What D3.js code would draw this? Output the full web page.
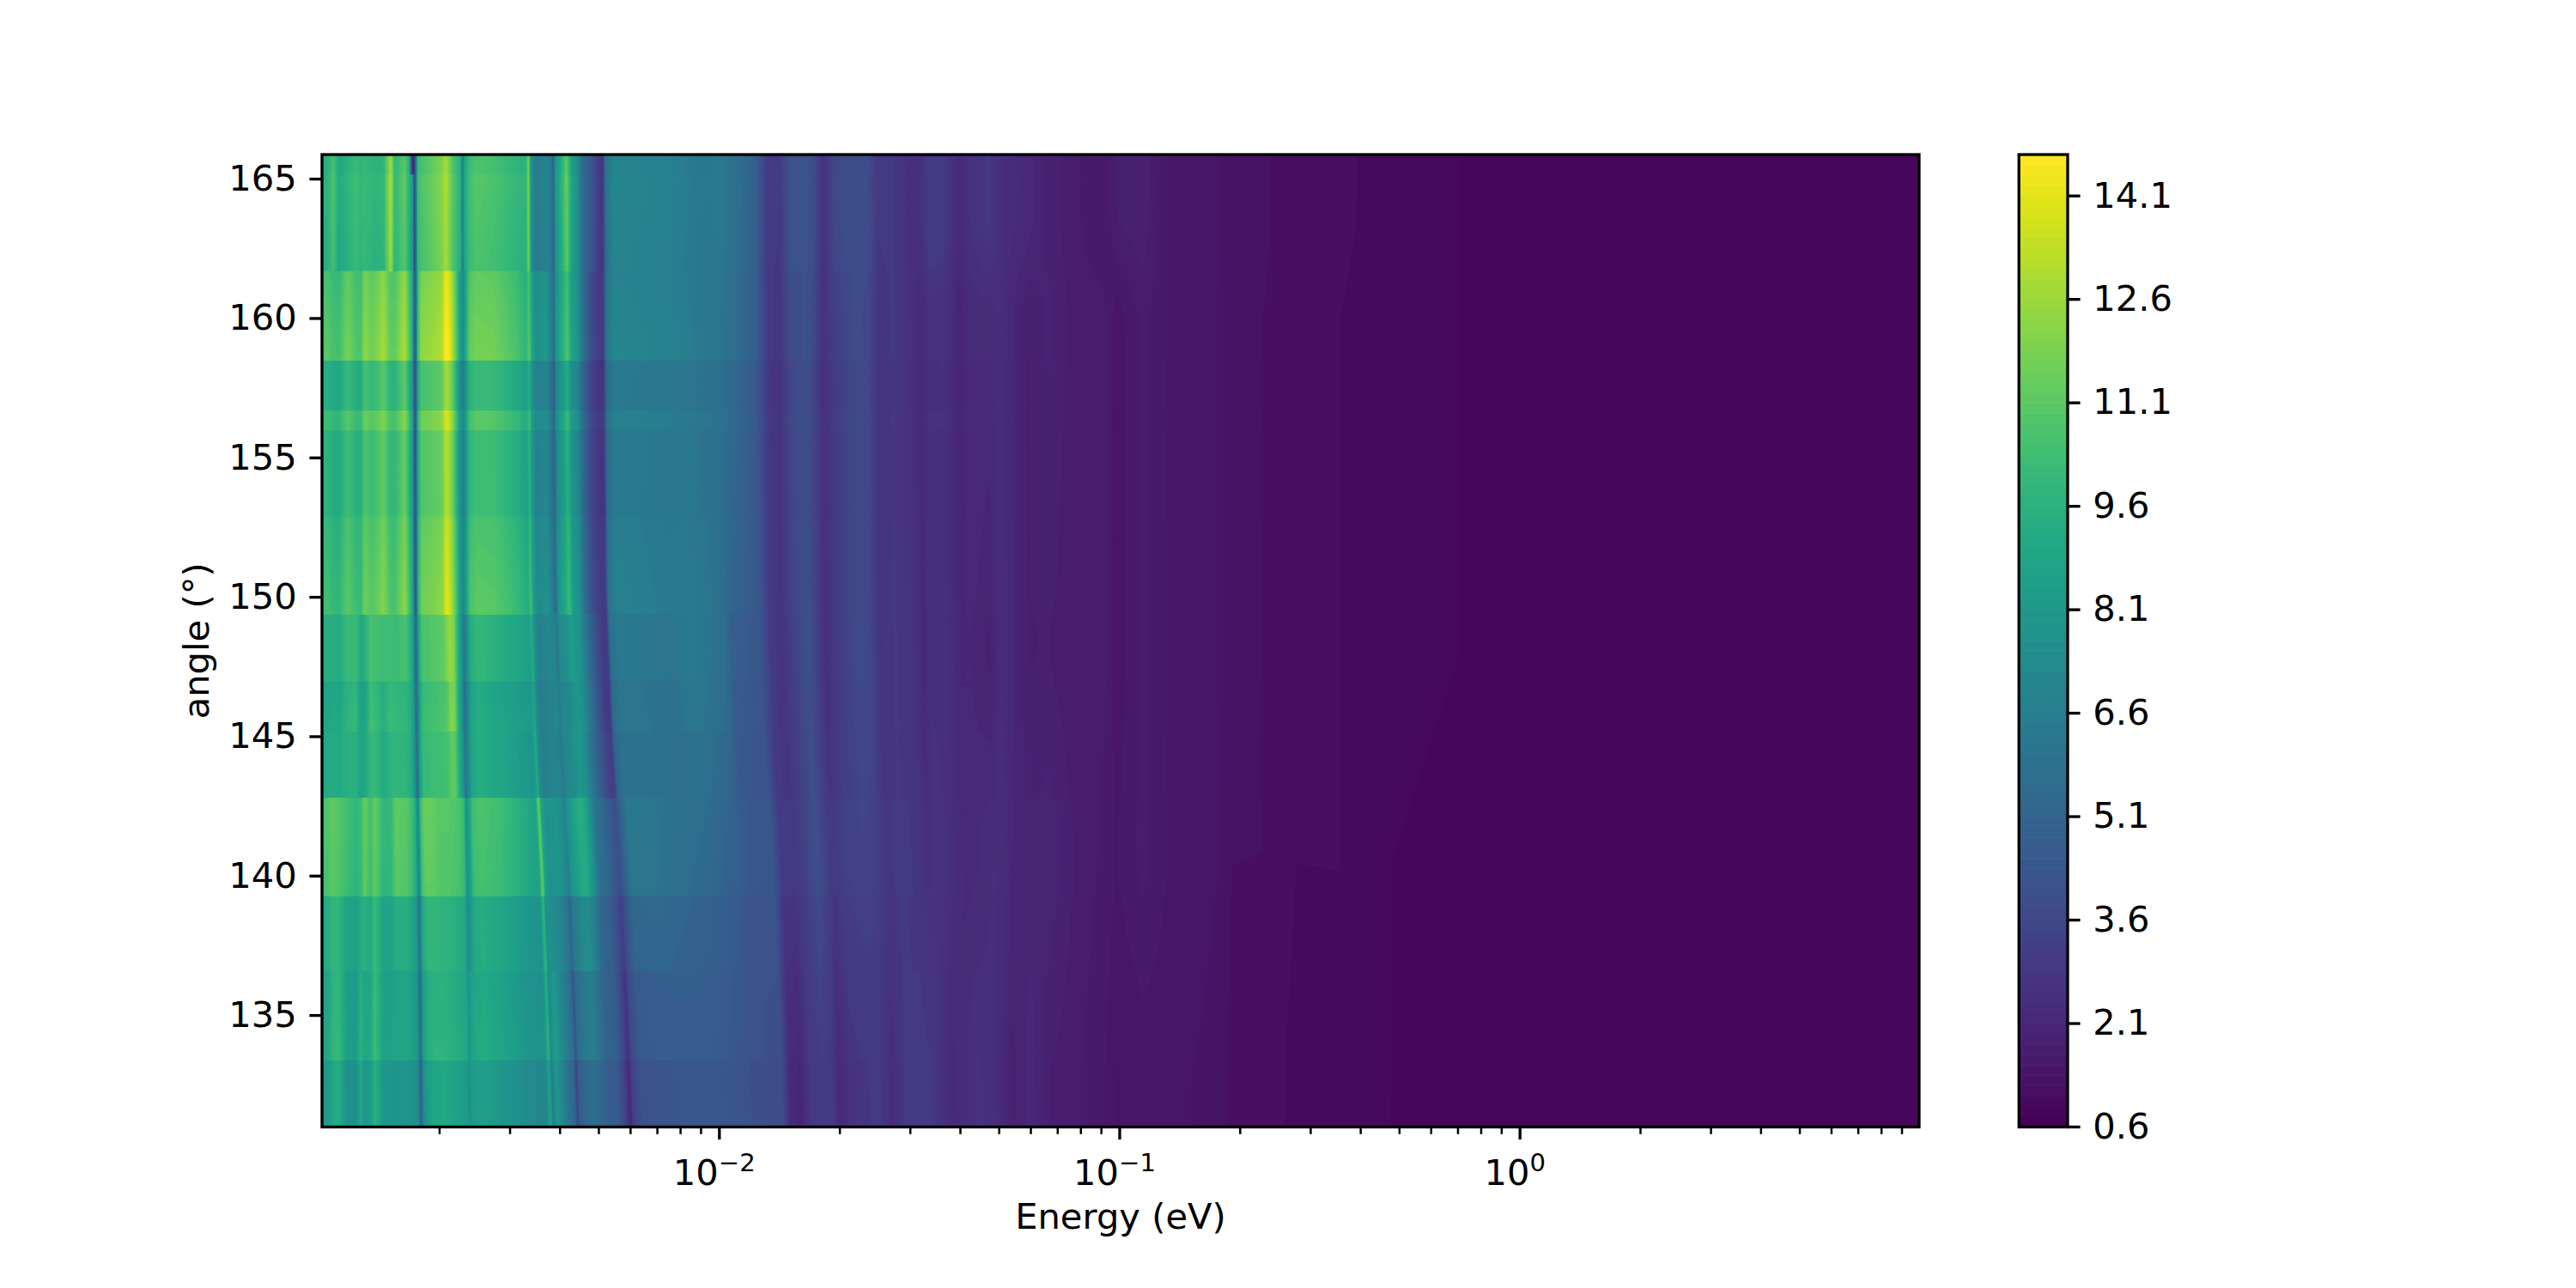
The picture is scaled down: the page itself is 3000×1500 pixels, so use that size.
<!DOCTYPE html>
<html><head><meta charset="utf-8">
<script src="https://d3js.org/d3.v7.min.js"></script>
<style>html,body{margin:0;background:#fff}svg{display:block}text{font-family:"DejaVu Sans";fill:#000}</style>
</head><body><svg id="c" width="3000" height="1500"></svg>
<script>
// ---- data ----
const logEnergy=[-2.995,-2.979,-2.964,-2.950,-2.929,-2.907,-2.896,-2.886,-2.871,-2.861,
-2.839,-2.821,-2.811,-2.786,-2.775,-2.767,-2.763,-2.758,-2.754,-2.746,
-2.728,-2.707,-2.693,-2.684,-2.675,-2.666,-2.657,-2.648,-2.641,-2.636,
-2.625,-2.607,-2.564,-2.507,-2.484,-2.477,-2.471,-2.460,-2.435,-2.421,
-2.415,-2.410,-2.392,-2.382,-2.371,-2.357,-2.342,-2.321,-2.303,-2.292,
-2.285,-2.264,-2.206,-2.135,-2.081,-2.038,-1.999,-1.978,-1.948,-1.909,
-1.879,-1.852,-1.824,-1.787,-1.766,-1.742,-1.712,-1.663,-1.631,-1.603,
-1.566,-1.517,-1.495,-1.478,-1.438,-1.401,-1.373,-1.326,-1.298,-1.277,
-1.229,-1.180,-1.116,-1.038,-1.009,-0.942,-0.880,-0.751,-0.719,-0.644,
-0.558,-0.451,-0.322,-0.150,0,0.171,0.386,0.600,0.815,0.999];
const driftAt131=[0,0,0,0,0,0,0,0,0,0,
0,0,.004,.010,.013,.016,.016,.016,.016,.018,
.018,.018,.018,.018,.018,.018,.018,.018,.018,.018,
.018,.020,.025,.040,.053,.056,.056,.056,.058,.062,
.062,.062,.065,.065,.065,.065,.068,.071,.071,.071,
.071,.071,.071,.071,.07,.07,.07,.07,.07,.07,
.06,.058,.056,.052,.05,.045,.042,.04,.038,.036,
.03,.027,.026,.025,.022,.02,.018,.014,.012,.011,
.008,.006,.004,.003,.002,0,0,0,0,0,
0,0,0,0,0,0,0,0,0,0];
const profile163=[9.5,9.8,10.8,9.2,9.8,10.4,10,10.2,10,9.8,
10,13,10,11.3,9.6,8.5,3.8,5.5,10.3,10.8,
11.2,11.8,12.2,13.2,12.2,11,10.4,9.8,6.8,9.2,
10.4,11,10.7,10,9.8,12,8,6.5,7,6.5,
5,8,10,11.5,9,8,5.6,4.5,3.2,2.8,
5.8,7.2,7,6.8,6.5,6.3,6.4,6,5.6,4.8,
2.9,2.9,4.2,4.2,4,2.6,3.7,4,3.9,2.9,
2.9,2.4,2.6,3.1,3,2.2,2.6,2.9,2.5,2.3,
2.2,1.9,1.7,1.5,1.8,1.9,1.5,1.35,1.2,1.25,
1.05,1.1,.95,.9,.85,.8,.78,.8,.78,.85];
const profile160=[10.5,10.8,10.3,10.2,11.5,10.6,10.5,12,11.4,11.5,
12.5,11,11,12.7,10.6,9,4.5,5.5,10,12,
12.2,12.5,12.8,14.6,14,12.5,10.6,8.5,7.4,8.5,
11,11.5,11.4,10.4,9.6,10.8,9,7.5,8,6.5,
5.5,8,9.5,10.6,8.5,8,5.6,3.7,3.1,3,
6,7,6.9,6.7,6.5,6.2,6,5.8,5.4,4.6,
3,2.7,3.8,4.1,3.6,2.6,3.2,3.8,3.7,2.7,
2.9,2.5,2.2,2.6,2.6,2,2.3,2.3,2.4,2.2,
1.8,2,1.75,1.7,1.4,1.7,1.5,1.4,1.25,1.2,
1.1,1.05,.95,.9,.85,.78,.75,.78,.8,.85];
const profile148=[9.3,9.5,9.6,9.5,10.3,10.6,9.2,9.2,11,10.8,
10,10.8,10.6,10.4,10,8.5,6,6.5,9,10.8,
11,11.2,11.4,11.7,12.8,12.6,10,8.5,6,7,
9.3,10,9.4,8.9,8.6,9.5,7.8,6.8,7.4,7.5,
7,7.5,7.6,8.2,8.6,8,6.6,4.6,3.2,3,
5.8,6.5,6.3,6.1,6.6,6.2,5.8,4.7,4.6,4.3,
3,2.7,3.3,4.1,3.4,2.5,3.1,3.7,3.7,2.7,
2.9,2.7,2.2,2.5,2.5,2.1,2.1,1.9,2.4,2.2,
1.8,1.8,1.7,1.7,1.4,1.7,1.5,1.4,1.25,1.2,
1.1,1.05,.95,.9,.85,.8,.75,.78,.8,.82];
const profile140=[10,10.5,10.8,10.5,10,9.5,9.8,11,10,11,
9.5,9.6,10.8,10.6,10,9,7,7.5,10,11,
11,10.6,10.6,10.6,10.5,10.4,10.2,9.8,7.5,8,
10,10.3,10,9,8.4,11,8.5,7.5,7.8,7,
6.5,7.5,8.5,9,9,7.8,5.8,5,4.2,3.9,
4.5,6,6,5.6,5.4,5.1,4.8,4.5,4.3,4.4,
3,2.9,3.2,4,3.4,2.9,3.3,3.4,3.3,2.8,
2.9,2.8,2.5,2.8,2.5,2.2,2.2,2.4,2.4,2.1,
2,2.1,1.8,1.6,1.5,1.7,1.5,1.35,1.2,1.2,
1.05,1.05,.9,.85,.8,.75,.78,.8,.78,.82];
const profile133=[8.5,8.8,9.8,10,8.2,8.2,9.8,8.6,9,10.3,
8.6,8.6,8.5,8.6,8.2,7.8,5.5,6,8.2,9,
9.6,9.7,9.6,9.4,9.2,9.2,9,9,8.2,8.8,
9,9.2,8.6,7.8,7.6,9.5,7,8.8,6.5,5.5,
3.6,5,5.8,6,6,5.6,5,4.8,3.5,2.3,
3.5,4.3,4.5,4.6,4.6,4.4,4.2,4.1,4,3.9,
2.2,2.1,3,3.1,3,2.2,2.7,2.9,2.9,2.4,
2.9,2.9,2.9,2.8,2.2,2.4,2.6,2.5,2.1,1.9,
2.2,1.8,1.7,1.5,1.35,1.4,1.4,1.3,1.15,1.15,
1,1.05,.9,.85,.8,.75,.78,.75,.82,.85];
const profiles=[profile163,profile160,profile148,profile140,profile133];
const profileAngles=[163.5,160,148,140.5,133];

// horizontal steps in the low-energy part of the map
const bandTop=[165.88,165.16,161.7,158.5,156.7,156,152.9,149.4,147,145.2,142.8,139.3,136.6,133.4];
const bandProfile=[0,0,1,1,1,1,1,1.7,2,2.3,3,3.4,3.8,4];
const bandGainTop=[.98,1,.98,.88,.96,.9,.93,.95,.93,.93,1.04,.95,.97,.93];
const bandGainBottom=[.98,.97,1.03,.88,.96,.9,.97,.95,.95,.93,1.02,.95,.99,.93];
const angleBottom=131;
// dark line at the top edge
const topStripColumns=[-2.767,-2.763];
const topStripValues=[2.2,2.2];

// how far the slanted lines have drifted at each angle (0 at top, 1 at 131 deg)
const driftAngles=[165.88,155,150,145,140,135,131];
const driftFraction=[0,.05,.1,.3,.62,.85,1];
const lowWeightLog=[-2.4,-2,-1.4,-.5];
const lowWeightValue=[1,.35,.1,0];

const levelStep=.15, levelMin=.6, levelCount=94;
const xLimits=[-2.9927,0.997];
const yLimits=[131,165.88];
const xMajor=[.01,.1,1];
const xMajorExp=["\u22122","\u22121","0"];
const yTicks=[135,140,145,150,155,160,165];
const cbarTicks=[.6,2.1,3.6,5.1,6.6,8.1,9.6,11.1,12.6,14.1];

// ---- layout ----
const L=375,R=2235,T=180,B=1312.5,CL=2351.25,CR=2408;
const FS=41.67,LW=3.33,MAJ=14.6,MIN=8.33,PAD=14.6;
const svg=d3.select("#c");
svg.append("rect").attr("width",3000).attr("height",1500).attr("fill","#fff");
const x=d3.scaleLog().domain(xLimits.map(v=>Math.pow(10,v))).range([L,R]);
const y=d3.scaleLinear().domain(yLimits).range([B,T]);
const levels=d3.range(levelCount).map(i=>levelMin+i*levelStep);
const levelTop=levelMin+levelCount*levelStep;
const color=d3.scaleSequential(d3.interpolateViridis).domain([levelMin,levelTop]);

// ---- grid ----
const rowAngles=[],rowBand=[],rowGain=[];
bandTop.forEach((top,i)=>{
  const bot=i+1<bandTop.length?bandTop[i+1]:angleBottom;
  const n=Math.max(2,Math.ceil((top-bot)/1.0)+1);
  for(let k=0;k<n;k++){
    const t=k/(n-1);
    rowAngles.push(top-(top-bot)*t-(k===n-1&&i+1<bandTop.length?.015:0));
    rowBand.push(i);
    rowGain.push(bandGainTop[i]+(bandGainBottom[i]-bandGainTop[i])*t);
  }
});
const nC=logEnergy.length,nR=rowAngles.length;
const smoothU=d3.scaleLinear().domain(profileAngles.slice().reverse()).range([4,3,2,1,0]).clamp(true);
const lowW=d3.scaleLinear().domain(lowWeightLog).range(lowWeightValue).clamp(true);
const drift=d3.scaleLinear().domain(driftAngles).range(driftFraction).clamp(true);
const atProfile=(u,c)=>{const a=Math.min(Math.floor(u),3),f=u-a;return profiles[a][c]*(1-f)+profiles[a+1][c]*f;};
const grid=new Float64Array(nC*nR);
for(let r=0;r<nR;r++)for(let c=0;c<nC;c++){
  const w=lowW(logEnergy[c]);
  const low=atProfile(bandProfile[rowBand[r]],c)*rowGain[r];
  const mid=atProfile(smoothU(rowAngles[r]),c);
  grid[c+r*nC]=w*low+(1-w)*mid;
}
topStripColumns.forEach((l,i)=>{
  const c=logEnergy.indexOf(l);
  rowBand.forEach((b,r)=>{if(b===0)grid[c+r*nC]=topStripValues[i];});
});

// ---- filled contours, like the original ----
const colToLog=d3.scaleLinear().domain(d3.range(nC)).range(logEnergy).clamp(true);
const colToDrift=d3.scaleLinear().domain(d3.range(nC)).range(driftAt131).clamp(true);
const rowToAngle=d3.scaleLinear().domain(d3.range(nR)).range(rowAngles).clamp(true);
const warp=d3.geoTransform({point(px,py){
  const a=rowToAngle(py-.5),cf=px-.5;
  const l=colToLog(cf)+colToDrift(cf)*drift(a);
  this.stream.point(x(Math.pow(10,l)),y(a));
}});
const path=d3.geoPath(warp);
const contours=d3.contours().size([nC,nR]).thresholds(levels)(Array.from(grid));
svg.append("clipPath").attr("id","plot").append("rect").attr("x",L).attr("y",T).attr("width",R-L).attr("height",B-T);
svg.append("rect").attr("x",L).attr("y",T).attr("width",R-L).attr("height",B-T).attr("fill",color(levelMin+levelStep/2));
svg.append("g").attr("clip-path","url(#plot)").selectAll("path").data(contours).join("path")
  .attr("d",path).attr("fill",d=>color(d.value+levelStep/2));

// ---- axes ----
function style(g,w){g.select(".domain").remove();g.selectAll("line").attr("stroke","#000").attr("stroke-width",w);
  g.selectAll("text").attr("font-size",FS).attr("font-family","DejaVu Sans");}
const minorVals=[];for(let e=-3;e<=0;e++)for(let m=2;m<=9;m++)minorVals.push(m*Math.pow(10,e));
svg.append("g").attr("transform",`translate(0,${B})`)
  .call(d3.axisBottom(x).tickValues(minorVals.filter(v=>v>=x.domain()[0]&&v<=x.domain()[1])).tickSize(MIN).tickSizeOuter(0).tickFormat("").offset(0))
  .call(g=>style(g,2.5));
const gx=svg.append("g").attr("transform",`translate(0,${B})`)
  .call(d3.axisBottom(x).tickValues(xMajor).tickSize(MAJ).tickSizeOuter(0).tickPadding(PAD).tickFormat("").offset(0))
  .call(g=>style(g,LW));
gx.selectAll("text").attr("dy",null).attr("y",MAJ+PAD+38).attr("x",-6).each(function(d,i){
  const t=d3.select(this);
  t.append("tspan").text("10");
  t.append("tspan").attr("font-size",FS*.7).attr("dy",-16).text(xMajorExp[i]);
});
svg.append("g").attr("transform",`translate(${L},0)`)
  .call(d3.axisLeft(y).tickValues(yTicks).tickSize(MAJ).tickSizeOuter(0).tickPadding(PAD).tickFormat(d3.format("d")).offset(0))
  .call(g=>style(g,LW));
svg.append("rect").attr("x",L).attr("y",T).attr("width",R-L).attr("height",B-T).attr("fill","none").attr("stroke","#000").attr("stroke-width",LW);
svg.append("text").attr("x",(L+R)/2).attr("y",1431).attr("text-anchor","middle").attr("font-size",FS).text("Energy (eV)");
svg.append("text").attr("transform",`translate(243,${(T+B)/2}) rotate(-90)`).attr("text-anchor","middle").attr("font-size",FS).text("angle (\u00b0)");

// ---- colour bar ----
const cy=d3.scaleLinear().domain([levelMin,levelTop]).range([B,T]);
svg.append("g").selectAll("rect").data(levels).join("rect")
  .attr("x",CL).attr("width",CR-CL).attr("y",d=>cy(d+levelStep)).attr("height",d=>cy(d)-cy(d+levelStep)+.6)
  .attr("fill",d=>color(d+levelStep/2));
svg.append("g").attr("transform",`translate(${CR},0)`)
  .call(d3.axisRight(cy).tickValues(cbarTicks).tickSize(MAJ).tickSizeOuter(0).tickPadding(PAD).tickFormat(d3.format(".1f")).offset(0))
  .call(g=>style(g,LW));
svg.append("rect").attr("x",CL).attr("y",T).attr("width",CR-CL).attr("height",B-T).attr("fill","none").attr("stroke","#000").attr("stroke-width",LW);
</script></body></html>
